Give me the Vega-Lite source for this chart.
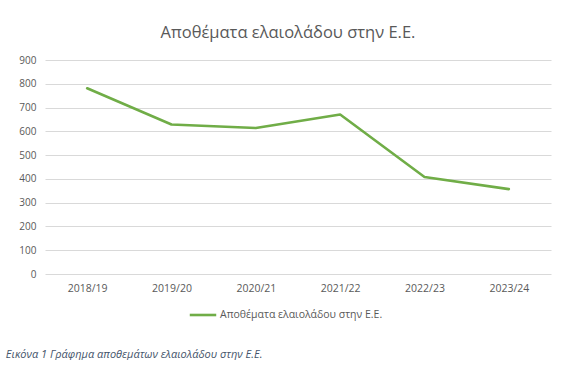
{
  "$schema": "https://vega.github.io/schema/vega-lite/v6.json",
  "background": "white",
  "padding": {"left": 5, "top": 24, "right": 20, "bottom": 0},
  "title": {
    "text": "Εικόνα 1 Γράφημα αποθεμάτων ελαιολάδου στην Ε.Ε.",
    "orient": "bottom",
    "anchor": "start",
    "font": "Open Sans",
    "fontSize": 11,
    "fontStyle": "italic",
    "fontWeight": "normal",
    "color": "#44546A",
    "offset": 28,
    "dx": -13
  },
  "vconcat": [
    {
      "width": 506,
      "height": 214,
      "title": {
        "text": "Αποθέματα ελαιολάδου στην Ε.Ε.",
        "font": "Open Sans",
        "fontSize": 16.5,
        "fontWeight": "normal",
        "color": "#595959",
        "anchor": "middle",
        "offset": 14,
        "dx": -10
      },
      "data": {
        "values": [
          {"season": "2018/19", "stock": 781, "series": "Αποθέματα ελαιολάδου στην Ε.Ε."},
          {"season": "2019/20", "stock": 629, "series": "Αποθέματα ελαιολάδου στην Ε.Ε."},
          {"season": "2020/21", "stock": 614, "series": "Αποθέματα ελαιολάδου στην Ε.Ε."},
          {"season": "2021/22", "stock": 671, "series": "Αποθέματα ελαιολάδου στην Ε.Ε."},
          {"season": "2022/23", "stock": 408, "series": "Αποθέματα ελαιολάδου στην Ε.Ε."},
          {"season": "2023/24", "stock": 357, "series": "Αποθέματα ελαιολάδου στην Ε.Ε."}
        ]
      },
      "mark": {"type": "line", "strokeWidth": 2.6, "strokeCap": "round", "strokeJoin": "round"},
      "encoding": {
        "x": {
          "field": "season",
          "type": "ordinal",
          "sort": null,
          "scale": {"type": "point", "padding": 0.5},
          "axis": {
            "title": null,
            "labelAngle": 0,
            "domain": false,
            "ticks": false,
            "grid": false,
            "labelFont": "Open Sans",
            "labelFontSize": 10.5,
            "labelColor": "#595959",
            "labelPadding": 9
          }
        },
        "y": {
          "field": "stock",
          "type": "quantitative",
          "scale": {"domain": [0, 900], "nice": false},
          "axis": {
            "title": null,
            "values": [0, 100, 200, 300, 400, 500, 600, 700, 800, 900],
            "domain": false,
            "ticks": false,
            "gridColor": "#d9d9d9",
            "gridWidth": 1,
            "labelFont": "Open Sans",
            "labelFontSize": 10,
            "labelColor": "#595959",
            "labelPadding": 9
          }
        },
        "color": {
          "field": "series",
          "type": "nominal",
          "scale": {"range": ["#70AD47"]},
          "legend": {
            "title": null,
            "orient": "none",
            "legendX": 143,
            "legendY": 240,
            "direction": "horizontal",
            "symbolType": "stroke",
            "symbolStrokeWidth": 2.6,
            "symbolSize": 700,
            "symbolOffset": 0,
            "labelOffset": 2,
            "labelLimit": 400,
            "labelFont": "Open Sans",
            "labelFontSize": 10.5,
            "labelColor": "#595959"
          }
        }
      }
    }
  ],
  "config": {"view": {"stroke": null}}
}
